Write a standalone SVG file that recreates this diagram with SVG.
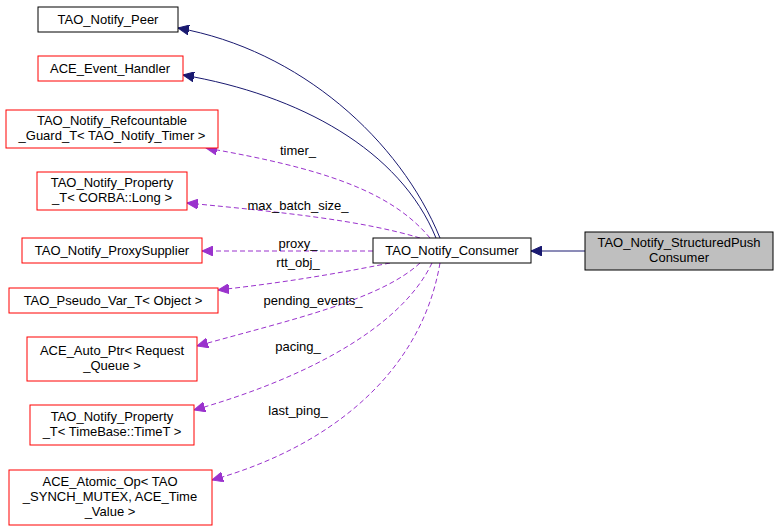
<svg xmlns="http://www.w3.org/2000/svg" width="779" height="532" viewBox="0 0 779 532">
<defs>
<marker id="an" markerWidth="12" markerHeight="10" refX="11" refY="5" orient="auto" markerUnits="userSpaceOnUse"><path d="M0,0 L11,5 L0,10 Z" fill="#191970" stroke="#191970"/></marker>
<marker id="ap" markerWidth="12" markerHeight="10" refX="11" refY="5" orient="auto" markerUnits="userSpaceOnUse"><path d="M0,0 L11,5 L0,10 Z" fill="#9a32cd" stroke="#9a32cd"/></marker>
</defs>
<style>
text{font-family:"Liberation Sans",Arial,sans-serif;font-size:13px;fill:#000}
.n rect{fill:#fff;stroke:#f00;stroke-width:1}
.b rect{stroke:#000}
.s{fill:none;stroke:#191970;stroke-width:1}
.d{fill:none;stroke:#9a32cd;stroke-width:1;stroke-dasharray:5,3}
</style>
<rect width="779" height="532" fill="#fff"/>
<g id="connectors">
<path class="s" d="M440,238 C400,140 300,50 178,28" marker-end="url(#an)"/>
<path class="s" d="M436,238 C400,150 300,95 183,75" marker-end="url(#an)"/>
<path class="d" d="M430,238 C390,190 320,168 206,148" marker-end="url(#ap)"/>
<path class="d" d="M420,238 C360,220 280,212 187,203" marker-end="url(#ap)"/>
<path class="d" d="M373,251 L202,251" marker-end="url(#ap)"/>
<path class="d" d="M390,263 C330,275 280,283 218,290" marker-end="url(#ap)"/>
<path class="d" d="M420,263 C380,300 290,320 197,346" marker-end="url(#ap)"/>
<path class="d" d="M432,263 C400,330 300,380 194,410" marker-end="url(#ap)"/>
<path class="d" d="M440,263 C420,380 320,450 212,480" marker-end="url(#ap)"/>
<path class="s" d="M585,251 L531,251" marker-end="url(#an)"/>
</g>
<g>
<text x="298" y="155" text-anchor="middle">timer_</text>
<text x="298" y="210" text-anchor="middle">max_batch_size_</text>
<text x="298" y="248" text-anchor="middle">proxy_</text>
<text x="298" y="267" text-anchor="middle">rtt_obj_</text>
<text x="313" y="305" text-anchor="middle">pending_events_</text>
<text x="298" y="351" text-anchor="middle">pacing_</text>
<text x="298" y="415" text-anchor="middle">last_ping_</text>
</g>
<g id="n1" class="n b"><rect x="38" y="7" width="140" height="25"/><text x="108" y="24" text-anchor="middle">TAO_Notify_Peer</text></g>
<g id="n2" class="n"><rect x="38" y="56" width="145" height="25"/><text x="110" y="73" text-anchor="middle">ACE_Event_Handler</text></g>
<g id="n3" class="n"><rect x="6" y="110" width="212" height="38"/><text x="112" y="125" text-anchor="middle">TAO_Notify_Refcountable</text><text x="112" y="140" text-anchor="middle">_Guard_T&lt; TAO_Notify_Timer &gt;</text></g>
<g id="n4" class="n"><rect x="37" y="172" width="150" height="38"/><text x="112" y="187" text-anchor="middle">TAO_Notify_Property</text><text x="112" y="202" text-anchor="middle">_T&lt; CORBA::Long &gt;</text></g>
<g id="n5" class="n"><rect x="22" y="238" width="180" height="25"/><text x="112" y="255" text-anchor="middle">TAO_Notify_ProxySupplier</text></g>
<g id="n6" class="n"><rect x="9" y="288" width="209" height="25"/><text x="113" y="305" text-anchor="middle">TAO_Pseudo_Var_T&lt; Object &gt;</text></g>
<g id="n7" class="n"><rect x="27" y="337" width="170" height="44"/><text x="112" y="355" text-anchor="middle">ACE_Auto_Ptr&lt; Request</text><text x="112" y="370" text-anchor="middle">_Queue &gt;</text></g>
<g id="n8" class="n"><rect x="30" y="405" width="164" height="40"/><text x="112" y="421" text-anchor="middle">TAO_Notify_Property</text><text x="112" y="436" text-anchor="middle">_T&lt; TimeBase::TimeT &gt;</text></g>
<g id="n9" class="n"><rect x="9" y="470" width="203" height="55"/><text x="110" y="486" text-anchor="middle">ACE_Atomic_Op&lt; TAO</text><text x="110" y="501" text-anchor="middle">_SYNCH_MUTEX, ACE_Time</text><text x="110" y="516" text-anchor="middle">_Value &gt;</text></g>
<g id="n10" class="n b"><rect x="373" y="238" width="158" height="25"/><text x="452" y="255" text-anchor="middle">TAO_Notify_Consumer</text></g>
<g id="n11" class="n b"><rect x="585" y="232" width="188" height="38" style="fill:#bfbfbf"/><text x="679" y="247" text-anchor="middle">TAO_Notify_StructuredPush</text><text x="679" y="262" text-anchor="middle">Consumer</text></g>
</svg>
